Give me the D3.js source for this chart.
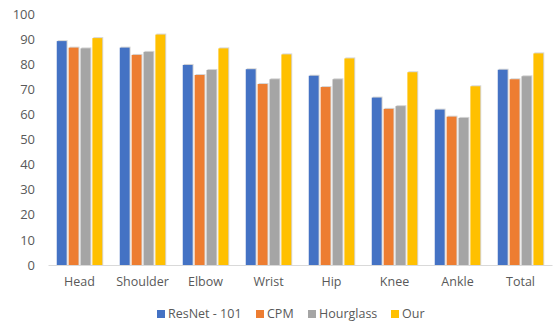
<!DOCTYPE html>
<html>
<head>
<meta charset="utf-8">
<script src="https://cdn.jsdelivr.net/npm/d3@7"></script>
<style>
  html, body { margin: 0; padding: 0; background: #fff; }
  svg { display: block; font-family: "Open Sans", "Liberation Sans", sans-serif; }
</style>
</head>
<body>
<svg id="chart" width="553" height="322"></svg>
<script>
// Joint categories and per-method accuracy
const categories = ["Head", "Shoulder", "Elbow", "Wrist", "Hip", "Knee", "Ankle", "Total"];
const seriesNames = ["ResNet - 101", "CPM", "Hourglass", "Our"];
const resnet101 = [89.2, 86.6, 79.7, 78.0, 75.4, 66.7, 61.9, 77.8];
const cpm       = [86.6, 83.7, 75.7, 72.1, 70.9, 62.2, 59.1, 74.0];
const hourglass = [86.3, 84.9, 77.7, 74.0, 74.0, 63.3, 58.6, 75.2];
const ours      = [90.4, 91.8, 86.3, 83.9, 82.3, 76.8, 71.2, 84.3];
const yTicks = [0, 10, 20, 30, 40, 50, 60, 70, 80, 90, 100];
const colors = ["#4472C4", "#ED7D31", "#A5A5A5", "#FFC000"];

const seriesValues = [resnet101, cpm, hourglass, ours];
const rows = categories.map((c, i) => ({
  category: c,
  values: seriesNames.map((s, k) => ({ series: s, k, value: seriesValues[k][i] }))
}));

const svg = d3.select("#chart");
const plotLeft = 48, plotRight = 552, plotTop = 14, plotBottom = 265;

const y = d3.scaleLinear().domain([0, 100]).range([plotBottom, plotTop]);
const x0 = d3.scaleBand().domain(categories).range([plotLeft, plotRight]).paddingInner(0).paddingOuter(0);
const groupWidth = 45.5;
const x1 = d3.scaleBand().domain(seriesNames)
  .range([0, groupWidth]).paddingInner(0.17).paddingOuter(0);

// Y axis labels (no axis line, no gridlines)
const yAxis = d3.axisLeft(y).tickValues(yTicks).tickSize(0).tickPadding(0);
svg.append("g")
  .attr("transform", `translate(35,0)`)
  .call(yAxis)
  .call(g => g.select(".domain").remove())
  .call(g => g.selectAll("text")
    .attr("fill", "#595959")
    .attr("font-size", "13px")
    .attr("font-family", "'Open Sans', 'Liberation Sans', sans-serif"));

// Bars
const groups = svg.append("g").selectAll("g")
  .data(rows)
  .join("g")
  .attr("transform", d => `translate(${x0(d.category) + (x0.bandwidth() - groupWidth) / 2},0)`);

// soft shadow behind each bar
groups.selectAll("rect.shadow")
  .data(d => d.values)
  .join("rect")
  .attr("class", "shadow")
  .attr("x", d => x1(d.series) + 1)
  .attr("y", d => y(d.value) - 1)
  .attr("width", x1.bandwidth())
  .attr("height", d => plotBottom - y(d.value) + 1)
  .attr("fill", "#d6d6d6");

groups.selectAll("rect.bar")
  .data(d => d.values)
  .join("rect")
  .attr("class", "bar")
  .attr("x", d => x1(d.series))
  .attr("y", d => y(d.value))
  .attr("width", x1.bandwidth())
  .attr("height", d => plotBottom - y(d.value))
  .attr("fill", d => colors[d.k]);

// X axis
const xAxis = d3.axisBottom(x0).tickSize(0).tickPadding(12);
svg.append("g")
  .attr("transform", `translate(0,${plotBottom})`)
  .call(xAxis)
  .call(g => g.select(".domain").attr("stroke", "#d9d9d9").attr("stroke-width", 1.2))
  .call(g => g.selectAll("text")
    .attr("fill", "#595959")
    .attr("font-size", "12.5px")
    .attr("font-family", "'Open Sans', 'Liberation Sans', sans-serif"));

// Legend
const legendX = [157, 256, 308, 391];
const legend = svg.append("g").selectAll("g")
  .data(seriesNames)
  .join("g")
  .attr("transform", (d, i) => `translate(${legendX[i]},314)`);
legend.append("rect")
  .attr("x", 0).attr("y", -4)
  .attr("width", 8).attr("height", 8)
  .attr("fill", (d, i) => colors[i]);
legend.append("text")
  .attr("x", 11).attr("y", 0)
  .attr("dy", "0.35em")
  .attr("fill", "#595959")
  .attr("font-size", "12.5px")
  .text(d => d);
</script>
</body>
</html>
